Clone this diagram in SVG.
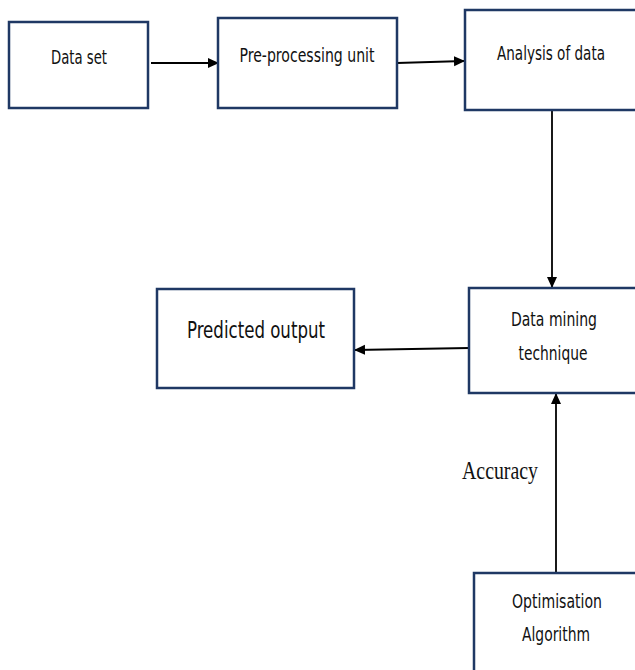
<svg xmlns="http://www.w3.org/2000/svg" width="635" height="670" viewBox="0 0 635 670">
<style>
.box{fill:#fff;stroke:#1f3864;stroke-width:2.5}
.t{font-family:"Liberation Sans Narrow","DejaVu Sans Condensed","Liberation Sans",sans-serif;fill:#111;text-anchor:middle;font-size:20px}
.c{stroke:#000;stroke-width:1.8;fill:none}
</style>
<defs>
<marker id="ah" markerWidth="11" markerHeight="11" refX="10" refY="5.5" orient="auto" markerUnits="userSpaceOnUse">
<path d="M0,0.5 L11,5.5 L0,10.5 Z" fill="#000"/>
</marker>
</defs>
<rect width="635" height="670" fill="#fff"/>
<g id="connectors">
<line class="c" x1="151" y1="63" x2="218" y2="63" marker-end="url(#ah)"/>
<line class="c" x1="397" y1="63" x2="464" y2="61" marker-end="url(#ah)"/>
<line class="c" x1="552" y1="111" x2="552" y2="287" marker-end="url(#ah)"/>
<line class="c" x1="469" y1="348" x2="355" y2="350" marker-end="url(#ah)"/>
<line class="c" x1="556" y1="573" x2="556" y2="394" marker-end="url(#ah)"/>
</g>
<g id="data-set">
<rect class="box" x="9" y="22" width="139" height="86"/>
<text class="t" x="79" y="64" textLength="56" lengthAdjust="spacingAndGlyphs">Data set</text>
</g>
<g id="pre-processing">
<rect class="box" x="218" y="18" width="179" height="90"/>
<text class="t" x="307" y="62" textLength="135" lengthAdjust="spacingAndGlyphs">Pre-processing unit</text>
</g>
<g id="analysis">
<rect class="box" x="465" y="10" width="180" height="100"/>
<text class="t" x="551" y="60" textLength="108" lengthAdjust="spacingAndGlyphs">Analysis of data</text>
</g>
<g id="data-mining">
<rect class="box" x="469" y="288" width="176" height="105"/>
<text class="t" x="554" y="326" textLength="86" lengthAdjust="spacingAndGlyphs">Data mining</text>
<text class="t" x="553" y="360" textLength="69" lengthAdjust="spacingAndGlyphs">technique</text>
</g>
<g id="predicted">
<rect class="box" x="157" y="289" width="197" height="99"/>
<text class="t" x="256" y="338" style="font-size:23px" textLength="138" lengthAdjust="spacingAndGlyphs">Predicted output</text>
</g>
<g id="optimisation">
<rect class="box" x="474" y="573" width="171" height="110"/>
<text class="t" x="557" y="608" textLength="90" lengthAdjust="spacingAndGlyphs">Optimisation</text>
<text class="t" x="556" y="641" textLength="68" lengthAdjust="spacingAndGlyphs">Algorithm</text>
</g>
<text x="500" y="479" font-family="Liberation Serif,serif" font-size="26" text-anchor="middle" fill="#111" textLength="76" lengthAdjust="spacingAndGlyphs">Accuracy</text>
</svg>
